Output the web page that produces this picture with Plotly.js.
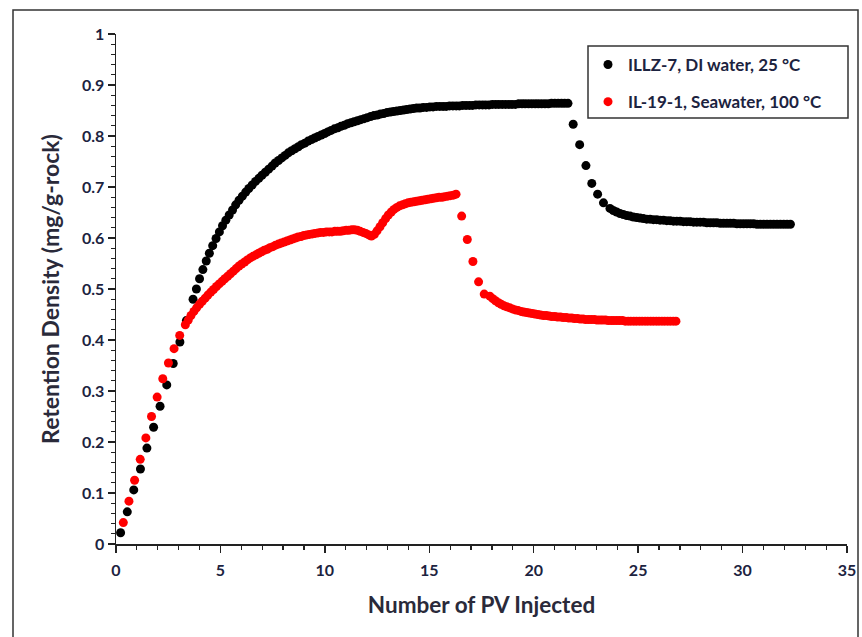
<!DOCTYPE html>
<html>
<head>
<meta charset="utf-8">
<script src="https://cdn.plot.ly/plotly-3.0.1.min.js"></script>
<style>html,body{margin:0;padding:0;background:#fff;}#chart{width:862px;height:637px;}</style>
</head>
<body>
<div id="chart"></div>
<script>
const seriesNames = ["ILLZ-7, DI water, 25 °C", "IL-19-1, Seawater, 100 °C"];

// ILLZ-7 (black)
const blackX = [
0.22,0.54,0.85,1.17,1.48,1.80,2.11,2.43,2.74,3.06,3.37,3.69,
3.85,4.00,4.16,4.32,4.47,4.63,4.79,4.95,5.10,5.26,5.42,5.58,5.73,5.89,6.05,6.21,6.36,6.52,6.68,6.84,6.99,7.15,7.31,7.47,7.62,7.78,7.94,8.10,8.25,8.41,8.57,8.73,8.88,9.04,9.20,9.36,9.51,9.67,9.83,9.99,
10.14,10.30,10.46,10.62,10.77,10.93,11.09,11.25,11.40,11.56,11.72,11.88,12.03,12.19,12.35,12.51,12.66,12.82,12.98,13.14,13.29,13.45,13.61,13.77,13.92,14.08,14.24,14.40,14.55,14.71,14.87,15.03,15.18,15.34,15.50,15.66,15.81,15.97,
16.13,16.29,16.44,16.60,16.76,16.92,17.07,17.23,17.39,17.55,17.70,17.86,18.02,18.18,18.33,18.49,18.65,18.81,18.96,19.12,19.28,19.44,19.59,19.75,19.91,20.07,20.22,20.38,20.54,20.70,20.85,21.01,21.17,21.33,21.48,21.64,
21.89,22.20,22.50,22.78,23.06,23.34,23.65,
23.81,23.97,24.13,24.29,24.45,24.61,24.77,24.93,25.09,25.25,25.41,25.57,25.73,25.89,26.05,26.21,26.37,26.53,26.69,26.85,27.01,27.17,27.33,27.49,27.65,27.81,27.97,28.13,28.29,28.45,
28.61,28.77,28.93,29.09,29.25,29.41,29.57,29.73,29.89,30.05,30.21,30.37,30.53,30.69,30.85,31.01,31.17,31.33,31.49,31.65,31.81,31.97,32.13,32.29];
const blackY = [
0.022,0.063,0.106,0.147,0.188,0.229,0.270,0.312,0.354,0.396,0.438,0.480,
0.500,0.520,0.538,0.555,0.570,0.585,0.599,0.612,0.624,0.635,0.645,0.655,0.665,0.674,0.682,0.690,0.697,0.704,0.711,0.717,0.723,0.729,0.735,0.741,0.747,0.752,0.757,0.762,0.767,0.771,0.775,0.779,0.783,0.786,0.790,0.793,0.796,0.799,0.802,0.805,
0.808,0.811,0.814,0.816,0.819,0.821,0.824,0.826,0.828,0.830,0.832,0.834,0.836,0.838,0.840,0.841,0.843,0.844,0.846,0.847,0.848,0.849,0.850,0.851,0.852,0.853,0.854,0.855,0.855,0.856,0.856,0.857,0.857,0.858,0.858,0.858,0.858,0.859,
0.859,0.859,0.859,0.860,0.860,0.860,0.860,0.861,0.861,0.861,0.861,0.861,0.862,0.862,0.862,0.862,0.862,0.862,0.862,0.862,0.863,0.863,0.863,0.863,0.863,0.863,0.863,0.863,0.863,0.863,0.864,0.864,0.864,0.864,0.864,0.864,
0.823,0.783,0.742,0.707,0.686,0.669,0.658,
0.654,0.651,0.648,0.646,0.644,0.643,0.641,0.640,0.639,0.638,0.637,0.637,0.636,0.636,0.635,0.635,0.634,0.634,0.633,0.633,0.633,0.632,0.632,0.632,0.631,0.631,0.631,0.631,0.630,0.630,
0.630,0.630,0.629,0.629,0.629,0.629,0.629,0.628,0.628,0.628,0.628,0.628,0.628,0.627,0.627,0.627,0.627,0.627,0.627,0.627,0.627,0.627,0.627,0.627];

// IL-19-1 (red)
const redX = [
0.35,0.62,0.89,1.16,1.43,1.70,1.97,2.24,2.51,2.78,3.05,3.32,
3.46,3.59,3.73,3.86,4.00,4.13,4.27,4.40,4.54,4.67,4.81,4.94,5.08,5.21,5.35,5.48,5.62,5.75,5.89,6.02,6.16,6.29,6.43,6.56,6.70,6.83,6.97,7.10,7.24,7.37,7.51,7.64,7.78,7.91,8.05,8.18,8.32,8.45,8.59,8.72,8.86,8.99,9.13,9.26,9.40,9.53,9.67,9.80,9.94,
10.07,10.21,10.34,10.48,10.61,10.75,10.88,11.02,11.15,11.29,11.42,11.56,11.69,11.83,11.96,12.10,12.23,12.37,12.50,12.64,12.77,12.91,13.04,13.18,13.31,13.45,13.58,13.72,13.85,13.99,
14.12,14.26,14.39,14.53,14.66,14.80,14.93,15.07,15.20,15.34,15.47,15.61,15.74,15.88,16.01,16.15,16.28,
16.55,16.82,17.09,17.36,17.63,17.90,
18.04,18.17,18.31,18.44,18.58,18.71,18.85,18.98,19.12,19.25,19.39,19.52,19.66,19.79,19.93,20.06,20.20,20.33,20.47,20.60,20.74,20.87,21.01,21.14,21.28,21.41,21.55,21.68,21.82,21.95,
22.09,22.22,22.36,22.49,22.63,22.76,22.90,23.03,23.17,23.30,23.44,23.57,23.71,23.84,23.98,24.11,24.25,24.38,24.52,24.65,24.79,24.92,25.06,25.19,25.33,25.46,25.60,25.73,25.87,26.00,
26.14,26.27,26.41,26.54,26.68,26.81];
const redY = [
0.042,0.084,0.125,0.166,0.208,0.250,0.288,0.324,0.355,0.383,0.409,0.430,
0.439,0.448,0.456,0.463,0.470,0.476,0.482,0.488,0.494,0.499,0.505,0.510,0.515,0.520,0.525,0.530,0.535,0.540,0.545,0.549,0.553,0.557,0.561,0.564,0.567,0.570,0.573,0.576,0.578,0.581,0.583,0.586,0.588,0.590,0.592,0.594,0.596,0.598,0.600,0.602,0.603,0.605,0.606,0.607,0.608,0.609,0.610,0.611,0.611,
0.612,0.612,0.612,0.613,0.613,0.613,0.614,0.615,0.615,0.616,0.616,0.615,0.613,0.611,0.609,0.606,0.604,0.607,0.614,0.622,0.630,0.638,0.645,0.651,0.656,0.660,0.663,0.665,0.667,0.669,
0.670,0.671,0.672,0.673,0.674,0.675,0.676,0.677,0.678,0.679,0.680,0.680,0.681,0.682,0.683,0.684,0.686,
0.643,0.597,0.554,0.514,0.490,0.486,
0.481,0.477,0.473,0.470,0.467,0.465,0.463,0.461,0.459,0.458,0.456,0.455,0.454,0.453,0.452,0.451,0.450,0.449,0.448,0.448,0.447,0.446,0.446,0.445,0.445,0.444,0.444,0.443,0.443,0.442,
0.442,0.441,0.441,0.440,0.440,0.440,0.440,0.439,0.439,0.439,0.439,0.438,0.438,0.438,0.438,0.438,0.438,0.437,0.437,0.437,0.437,0.437,0.437,0.437,0.437,0.437,0.437,0.437,0.437,0.437,
0.437,0.437,0.437,0.437,0.437,0.437];

const xTitle = "Number of PV Injected";
const yTitle = "Retention Density (mg/g-rock)";

const textColor = "#1c2340";
const fontFam = "Lato, 'Open Sans', sans-serif";

const traces = [
  {x: blackX, y: blackY, name: seriesNames[0], type: "scatter", mode: "markers",
   legendgroup: "a", marker: {color: "#000000", size: 9}},
  {x: redX, y: redY, name: seriesNames[1], type: "scatter", mode: "markers",
   legendgroup: "b", marker: {color: "#ff0000", size: 9}}
];

const axisCommon = {
  showgrid: false, zeroline: false, showline: true, linecolor: "#222", linewidth: 1.5,
  ticks: "outside", ticklen: 7, tickwidth: 1.3, tickcolor: "#222",
  tickfont: {family: fontFam, size: 16, color: textColor, weight: "bold"},
  automargin: false
};

// plot area: x 116..847 px, y 34..544 px
const px = v => (v - 116) / 731;
const py = v => (544 - v) / 510;

const layout = {
  width: 862, height: 637,
  margin: {l: 116, r: 15, t: 34, b: 93},
  paper_bgcolor: "#ffffff", plot_bgcolor: "#ffffff",
  showlegend: true,
  legend: {x: px(588), y: py(47), xanchor: "left", yanchor: "top",
    borderwidth: 0, bgcolor: "rgba(0,0,0,0)",
    tracegroupgap: 12, itemwidth: 30,
    font: {family: fontFam, size: 17, color: textColor, weight: "bold"}},
  xaxis: Object.assign({}, axisCommon, {
    range: [0, 35], dtick: 5, tick0: 0, ticklabelstandoff: 4,
    minor: {dtick: 1, ticks: "outside", ticklen: 4, tickcolor: "#222", tickwidth: 1.2},
    title: {text: xTitle, standoff: 19, font: {family: fontFam, size: 22.5, color: "#2a2a3a", weight: "bold"}}
  }),
  yaxis: Object.assign({}, axisCommon, {
    range: [0, 1], dtick: 0.1, tick0: 0,
    minor: {dtick: 0.02, ticks: "outside", ticklen: 4, tickcolor: "#222", tickwidth: 1.2},
    title: {text: yTitle, standoff: 16, font: {family: fontFam, size: 23, color: "#2a2a3a", weight: "bold"}}
  }),
  shapes: [
    {type: "rect", xref: "paper", yref: "paper",
     x0: px(13), x1: px(858), y0: py(645), y1: py(10),
     line: {color: "#333", width: 1.5}, fillcolor: "rgba(0,0,0,0)", layer: "below"},
    {type: "rect", xref: "paper", yref: "paper",
     x0: px(588), x1: px(848), y0: py(118), y1: py(46),
     line: {color: "#333", width: 1.5}, fillcolor: "#ffffff", layer: "below"}
  ]
};

Plotly.newPlot("chart", traces, layout, {displayModeBar: false, staticPlot: true});
</script>
</body>
</html>
